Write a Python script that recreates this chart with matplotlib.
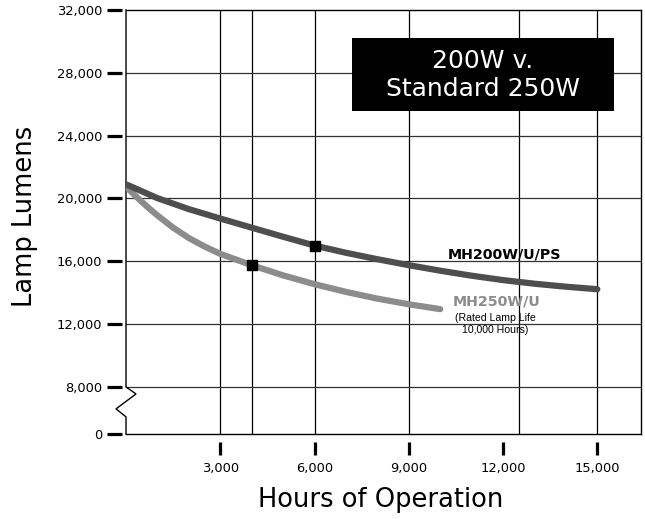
import matplotlib
matplotlib.use("Agg")
import matplotlib.pyplot as plt
from matplotlib.patches import Rectangle

# ---------------- data ----------------
hours_200 = [0, 1000, 2000, 3000, 4000, 5000, 6000, 7000, 8000,
             9000, 10000, 11000, 12000, 13000, 14000, 15000]
lumens_200 = [20900, 20020, 19320, 18720, 18140, 17560, 17000, 16540, 16130,
              15750, 15400, 15080, 14800, 14570, 14380, 14220]

hours_250 = [0, 250, 500, 750, 1000, 1500, 2000, 2500, 3000, 4000, 5000, 6000,
             7000, 8000, 9000, 10000]
lumens_250 = [20750, 20260, 19790, 19340, 18920, 18140, 17480, 16940, 16470,
              15750, 15100, 14540, 14050, 13620, 13260, 12950]

marker_200 = (6000, 17000)
marker_250 = (4000, 15750)

x_ticks = [3000, 6000, 9000, 12000, 15000]
x_tick_labels = ["3,000", "6,000", "9,000", "12,000", "15,000"]
y_ticks = [5000, 8000, 12000, 16000, 20000, 24000, 28000, 32000]
y_tick_labels = ["0", "8,000", "12,000", "16,000", "20,000", "24,000", "28,000", "32,000"]
x_grid = [3000, 4000, 6000, 9000, 12500, 15000]
y_grid = [8000, 12000, 16000, 20000, 24000, 28000]

label_200 = "MH200W/U/PS"
label_250 = "MH250W/U"
note_250 = "(Rated Lamp Life\n10,000 Hours)"
title_text = "200W v.\nStandard 250W"

# ---------------- figure ----------------
W, H = 645, 519
fig = plt.figure(figsize=(W / 100, H / 100), dpi=100)
ax = fig.add_axes([126 / W, 1 - 434 / H, (641 - 126) / W, (434 - 10) / H])
ax.set_xlim(0, 16390)
ax.set_ylim(5000, 32000)

dark = "#4e4e4e"
light = "#8c8c8c"

# grid
for gx in x_grid:
    ax.axvline(gx, color="black", lw=0.9, zorder=1)
for gy in y_grid:
    ax.axhline(gy, color="#333333", lw=0.9, zorder=1)
ax.axhline(5000, color="black", lw=1.0, zorder=1, clip_on=False)

# spines
for s in ["top", "right"]:
    ax.spines[s].set_linewidth(1.0)
    ax.spines[s].set_color("black")
ax.spines["left"].set_visible(False)
ax.spines["bottom"].set_visible(False)
ax.spines["left"].set_position(("outward", 3))
ax.spines["bottom"].set_position(("outward", 6))

# left axis line with break
dx = 318
ax.plot([0, 0, dx, -dx, 0, 0], [32000, 8000, 7550, 6600, 6090, 5000],
        color="black", lw=1.0, clip_on=False, zorder=2, solid_joinstyle="miter")

# ticks
ax.set_xticks(x_ticks)
ax.set_xticklabels(x_tick_labels)
ax.set_yticks(y_ticks)
ax.set_yticklabels(y_tick_labels)
ax.tick_params(axis="y", length=11, width=2.3, direction="out", pad=3,
               labelsize=9.4, colors="black")
ax.tick_params(axis="x", length=9.5, width=2.3, direction="out", pad=5,
               labelsize=9.4, colors="black")

# curves
ax.plot(hours_250, lumens_250, color=light, lw=4.5, solid_capstyle="round",
        solid_joinstyle="round", zorder=3)
ax.plot(hours_200, lumens_200, color=dark, lw=4.5, solid_capstyle="round",
        solid_joinstyle="round", zorder=3)
ax.plot([marker_250[0]], [marker_250[1]], marker="s", ms=6.8, color="black",
        linestyle="none", zorder=4)
ax.plot([marker_200[0]], [marker_200[1]], marker="s", ms=6.8, color="black",
        linestyle="none", zorder=4)

# curve labels
ax.text(12035, 16460, label_200, ha="center", va="center", fontsize=10.3,
        fontweight="bold", color="black", family="DejaVu Sans", zorder=5)
ax.text(11796, 13466, label_250, ha="center", va="center", fontsize=10.3,
        fontweight="bold", color=light, family="DejaVu Sans", zorder=5)
ax.text(11750, 12000, note_250, ha="center", va="center", fontsize=7.6,
        color="black", family="Liberation Sans", linespacing=1.15, zorder=5)

# title box
x0 = (352 - 126) / 515
x1 = (614 - 126) / 515
y0 = (434 - 111) / 424
y1 = (434 - 38) / 424
ax.add_patch(Rectangle((x0, y0), x1 - x0, y1 - y0, transform=ax.transAxes,
                       facecolor="black", edgecolor="none", zorder=6))
ax.text((x0 + x1) / 2, (y0 + y1) / 2 - 0.002, title_text, transform=ax.transAxes,
        ha="center", va="center", color="white", fontsize=18, linespacing=1.2,
        zorder=7)

# axis labels
fig.text(381 / W, 1 - 500 / H, "Hours of Operation", ha="center", va="center",
         fontsize=18.5, color="black")
fig.text(25 / W, 1 - 216 / H, "Lamp Lumens", ha="center", va="center",
         rotation=90, fontsize=18.5, color="black")

fig.savefig("out.png", dpi=100, facecolor="white")
